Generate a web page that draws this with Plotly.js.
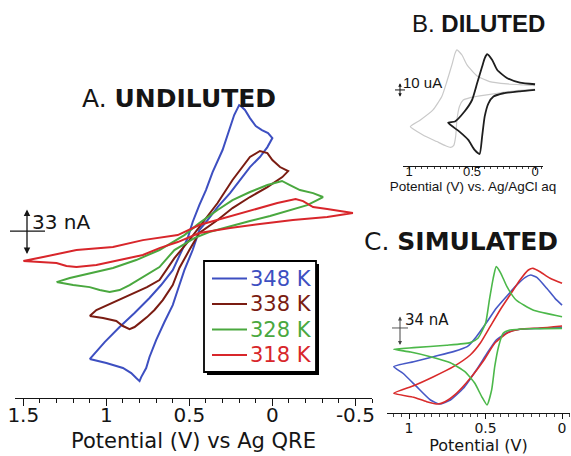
<!DOCTYPE html>
<html><head><meta charset="utf-8">
<script src="https://cdn.plot.ly/plotly-3.0.1.min.js"></script>
<style>html,body{margin:0;padding:0;background:#fff}#chart{width:571px;height:456px}</style>
</head><body><div id="chart"></div>
<script>
// ---------- Panel A: undiluted CVs (potential V vs Ag QRE, current nA) ----------
const seriesLabels = ['348 K', '338 K', '328 K', '318 K'];
const potA348 = [1.10,1.00,0.90,0.85,0.82,0.80,0.79,0.76,0.74,0.70,0.65,0.60,0.57,0.53,0.48,0.44,0.39,0.33,0.255,0.18,0.135,0.075,0.03,0.00,0.026,0.063,0.10,0.135,0.165,0.19,0.20,0.23,0.255,0.30,0.36,0.40,0.44,0.48,0.51,0.56,0.60,0.67,0.74,0.83,0.92,1.01,1.10];
const curA348 = [-91.8,-94.6,-98.2,-101.8,-105.4,-107.6,-104.7,-98.2,-90.3,-78.2,-65.2,-53.1,-42.3,-28.0,-13.6,0.7,7.9,17.2,27.2,38.7,45.9,53.1,60.2,66.7,70.3,72.4,75.3,81.0,86.8,89.6,90.3,83.2,73.9,58.1,42.3,29.4,18.6,6.5,-5.0,-17.2,-28.0,-38.7,-48.0,-58.8,-68.8,-79.6,-91.8];
const potA338 = [1.10,1.02,0.94,0.90,0.86,0.83,0.80,0.755,0.71,0.66,0.60,0.56,0.50,0.44,0.33,0.24,0.135,0.03,-0.06,-0.095,-0.046,0.00,0.03,0.075,0.135,0.24,0.33,0.44,0.50,0.59,0.68,0.755,0.86,0.96,1.06,1.10];
const curA338 = [-60.9,-62.4,-64.5,-68.1,-70.3,-68.8,-66.0,-61.7,-56.6,-49.5,-38.7,-26.5,-13.6,-1.4,7.9,16.5,24.4,31.5,38.7,43.0,45.9,50.9,55.9,57.4,53.1,36.6,20.1,2.9,-6.5,-19.4,-35.1,-40.2,-45.9,-50.9,-56.6,-60.9];
const potA328 = [1.30,1.20,1.10,1.04,0.98,0.92,0.86,0.78,0.68,0.59,0.47,0.38,0.255,0.135,0.014,-0.106,-0.21,-0.27,-0.305,-0.245,-0.166,-0.106,-0.058,0.03,0.135,0.24,0.33,0.44,0.53,0.68,0.82,0.96,1.10,1.22,1.30];
const curA328 = [-36.6,-38.7,-40.2,-42.3,-43.7,-42.3,-38.7,-33.0,-25.8,-13.6,-5.0,-0.7,3.6,7.2,10.8,15.1,18.6,22.2,24.4,27.2,29.4,33.0,35.9,33.0,28.0,22.2,15.1,5.7,-2.9,-13.6,-20.8,-26.5,-30.1,-33.7,-36.6];
const potA318 = [1.50,1.42,1.30,1.24,1.18,1.06,0.92,0.78,0.68,0.57,0.44,0.255,0.075,-0.124,-0.33,-0.425,-0.485,-0.33,-0.245,-0.185,-0.14,-0.03,0.075,0.195,0.315,0.44,0.57,0.68,0.78,0.96,1.18,1.38,1.50];
const curA318 = [-21.5,-22.2,-22.9,-25.1,-25.8,-24.4,-20.8,-17.2,-12.2,-7.9,-1.4,2.2,5.0,7.9,10.0,11.5,12.9,15.8,17.2,21.5,22.9,20.1,16.5,12.9,8.6,4.3,-2.9,-5.0,-6.5,-11.5,-13.6,-18.6,-21.5];
const ticksA = [1.5, 1, 0.5, 0, -0.5];
const tickTextA = ['1.5', '1', '0.5', '0', '-0.5'];

// ---------- Panel B: diluted CVs (potential V vs Ag/AgCl aq, current uA) ----------
const potBgray = [0.0,0.17,0.30,0.44,0.52,0.57,0.60,0.62,0.63,0.645,0.67,0.71,0.78,0.89,0.99,0.91,0.81,0.74,0.70,0.66,0.635,0.62,0.58,0.54,0.46,0.36,0.22,0.09,0.0];
const curBgray = [0.5,-0.7,-2.2,-4.0,-5.3,-6.7,-11,-20,-31,-37,-38.3,-37.2,-34.4,-30,-24.4,-20,-13.3,-4.4,5.6,16.7,24.4,26.7,23.3,16.7,9.3,5.6,4.0,3.3,2.9];
const potBblack = [0.0,0.12,0.25,0.33,0.37,0.40,0.42,0.44,0.48,0.53,0.60,0.69,0.635,0.56,0.50,0.46,0.42,0.40,0.38,0.34,0.30,0.22,0.12,0.0];
const curBblack = [0,-0.9,-2.2,-4.4,-8.9,-17.8,-31,-42.7,-40,-33.3,-27.8,-21.8,-21,-14.4,-6.7,4.4,15.6,21.1,23.8,20,13.3,7.8,4.9,3.8];
const ticksB = [1, 0.5, 0];
const tickTextB = ['1', '0.5', '0'];

// ---------- Panel C: simulated CVs (potential V, current nA) ----------
const potC348 = [0.0,0.144,0.275,0.36,0.43,0.49,0.56,0.645,0.73,0.80,0.86,0.95,1.04,1.10,0.97,0.84,0.71,0.62,0.56,0.49,0.43,0.36,0.30,0.24,0.205,0.165,0.10,0.046,0.0];
const curC348 = [0.8,-0.4,-1.5,-5.3,-13.6,-28.7,-47.6,-68.3,-81.6,-86.1,-81.6,-66.5,-51.3,-43.8,-38.2,-32.5,-26.8,-21.2,-9.8,7.1,22.3,36.3,48,57.4,60,57.4,45,33.6,26];
const potC318 = [0.0,0.144,0.275,0.36,0.44,0.51,0.60,0.69,0.765,0.81,0.885,0.97,1.10,0.97,0.84,0.71,0.60,0.535,0.47,0.405,0.34,0.275,0.22,0.19,0.144,0.078,0.0];
const curC318 = [2.3,0,-1.5,-6,-17.4,-36.3,-57,-74,-83.5,-86.1,-83.5,-78.5,-74,-65.4,-55.2,-43.8,-30.6,-17.4,1.5,20.4,37.4,54.4,65.7,67.6,63.8,56.3,50.6];
const potC328 = [0.0,0.21,0.34,0.385,0.415,0.44,0.46,0.49,0.525,0.57,0.635,0.73,0.86,0.99,1.10,0.97,0.755,0.60,0.55,0.50,0.475,0.45,0.43,0.40,0.36,0.30,0.19,0.0];
const curC328 = [-0.4,-0.8,-2.3,-6,-21.2,-43.8,-70.2,-87.2,-77.8,-62.7,-49.5,-39.3,-32.5,-27.2,-24.1,-22.3,-19.6,-16.6,-11.7,5.3,31.7,56.3,69.5,62,46.8,31.7,20.4,12.8];
const ticksC = [1, 0.5, 0];
const tickTextC = ['1', '0.5', '0'];

// ---------- styling ----------
const W = 571, H = 456;
const px = v => v / W;
const py = v => 1 - v / H;
const colA = ['#3d4fc1', '#7a1c12', '#4aa83f', '#d8262b'];
const DJ = 'DejaVu Sans';
const LS = 'Liberation Sans, Arial, sans-serif';
const ink = '#151515';

const traces = [];
[[potA348, curA348], [potA338, curA338], [potA328, curA328], [potA318, curA318]].forEach((s, i) => {
  traces.push({
    x: s[0], y: s[1], xaxis: 'x', yaxis: 'y', mode: 'lines', type: 'scatter',
    name: seriesLabels[i], showlegend: false,
    line: {color: colA[i], width: 2}, hoverinfo: 'skip'
  });
});
traces.push({x: potBgray, y: curBgray, xaxis: 'x2', yaxis: 'y2', mode: 'lines', showlegend: false,
  line: {color: '#c9c9c9', width: 1.2, shape: 'spline', smoothing: 0.5}, hoverinfo: 'skip'});
traces.push({x: potBblack, y: curBblack, xaxis: 'x2', yaxis: 'y2', mode: 'lines', showlegend: false,
  line: {color: '#1e1e1e', width: 1.8, shape: 'spline', smoothing: 0.5}, hoverinfo: 'skip'});
traces.push({x: potC348, y: curC348, xaxis: 'x3', yaxis: 'y3', mode: 'lines', showlegend: false,
  line: {color: '#4658c6', width: 1.6, shape: 'spline', smoothing: 0.5}, hoverinfo: 'skip'});
traces.push({x: potC318, y: curC318, xaxis: 'x3', yaxis: 'y3', mode: 'lines', showlegend: false,
  line: {color: '#d92b2b', width: 1.6, shape: 'spline', smoothing: 0.5}, hoverinfo: 'skip'});
traces.push({x: potC328, y: curC328, xaxis: 'x3', yaxis: 'y3', mode: 'lines', showlegend: false,
  line: {color: '#4cb84a', width: 1.6, shape: 'spline', smoothing: 0.5}, hoverinfo: 'skip'});

// ---------- legend box for panel A (drawn with shapes + text) ----------
const legBox = {x0: 204, x1: 316, y0: 261, y1: 372};
const legRows = [278.5, 304, 329.5, 355];
const shapes = [
  {type: 'rect', xref: 'paper', yref: 'paper', x0: px(legBox.x0 + 3), x1: px(legBox.x1 + 3), y0: py(legBox.y1 + 3), y1: py(legBox.y0 + 3),
   fillcolor: '#000', line: {width: 0}, layer: 'above'},
  {type: 'rect', xref: 'paper', yref: 'paper', x0: px(legBox.x0), x1: px(legBox.x1), y0: py(legBox.y1), y1: py(legBox.y0),
   fillcolor: '#fff', line: {color: '#000', width: 1.8}, layer: 'above'},
  // scale bar crosses
  {type: 'line', xref: 'paper', yref: 'y', x0: px(10), x1: px(45), y0: 0, y1: 0, line: {color: ink, width: 1.2}},
  {type: 'line', xref: 'paper', yref: 'y2', x0: px(395), x1: px(405), y0: 0, y1: 0, line: {color: ink, width: 1}},
  {type: 'line', xref: 'paper', yref: 'y3', x0: px(392), x1: px(408), y0: 0, y1: 0, line: {color: '#555', width: 1}}
];
const annotations = [
  {xref: 'paper', yref: 'paper', x: px(178.5), y: py(98.5), xanchor: 'center', yanchor: 'middle', showarrow: false,
   text: 'A. <b>UNDILUTED</b>', font: {family: DJ, size: 25, color: ink}},
  {xref: 'paper', yref: 'paper', x: px(478.5), y: py(23.7), xanchor: 'center', yanchor: 'middle', showarrow: false,
   text: 'B. <b>DILUTED</b>', font: {family: LS, size: 24, color: ink}},
  {xref: 'paper', yref: 'paper', x: px(460.5), y: py(241.7), xanchor: 'center', yanchor: 'middle', showarrow: false,
   text: 'C. <b>SIMULATED</b>', font: {family: DJ, size: 25, color: ink}},
  // scale bars
  {xref: 'paper', yref: 'y', x: px(27), y: -16.5, axref: 'pixel', ax: 0, ayref: 'y', ay: 16.5, text: '',
   showarrow: true, arrowhead: 2, arrowside: 'end+start', arrowsize: 1, arrowwidth: 1.3, arrowcolor: ink, standoff: 0, startstandoff: 0},
  {xref: 'paper', yref: 'y', x: px(30), y: 6.5, xanchor: 'left', yanchor: 'middle', showarrow: false,
   text: '33 nA', font: {family: DJ, size: 20, color: ink}},
  {xref: 'paper', yref: 'y2', x: px(400), y: -4.5, axref: 'pixel', ax: 0, ayref: 'y2', ay: 5.5, text: '',
   showarrow: true, arrowhead: 2, arrowside: 'end+start', arrowsize: 0.7, arrowwidth: 1, arrowcolor: ink, standoff: 0, startstandoff: 0},
  {xref: 'paper', yref: 'y2', x: px(401), y: 5.3, xanchor: 'left', yanchor: 'middle', showarrow: false,
   text: '10 uA', font: {family: LS, size: 15, color: ink}},
  {xref: 'paper', yref: 'y3', x: px(400), y: -19.3, axref: 'pixel', ax: 0, ayref: 'y3', ay: 14.7, text: '',
   showarrow: true, arrowhead: 2, arrowside: 'end+start', arrowsize: 0.8, arrowwidth: 1, arrowcolor: '#444', standoff: 0, startstandoff: 0},
  {xref: 'paper', yref: 'y3', x: px(403), y: 9.1, xanchor: 'left', yanchor: 'middle', showarrow: false,
   text: '34 nA', font: {family: DJ, size: 15, color: ink}}
];
seriesLabels.forEach((lab, i) => {
  shapes.push({type: 'line', xref: 'paper', yref: 'paper', x0: px(212), x1: px(247), y0: py(legRows[i]), y1: py(legRows[i]),
    line: {color: colA[i], width: 2}, layer: 'above'});
  annotations.push({xref: 'paper', yref: 'paper', x: px(248), y: py(legRows[i]), xanchor: 'left', yanchor: 'middle',
    showarrow: false, text: lab, font: {family: DJ, size: 21, color: colA[i]}});
});

const baseX = {
  showline: true, linecolor: ink, linewidth: 1.2, ticks: 'outside', tickcolor: ink,
  showgrid: false, zeroline: false, tickmode: 'array', automargin: false
};
const layout = {
  width: W, height: H, margin: {l: 0, r: 0, t: 0, b: 0},
  paper_bgcolor: '#fff', plot_bgcolor: 'rgba(0,0,0,0)',
  showlegend: false,
  xaxis: Object.assign({}, baseX, {
    domain: [px(15), px(372)], range: [1.55, -0.6], anchor: 'y',
    tickvals: ticksA, ticktext: tickTextA, ticklen: 7, tickwidth: 1.2, ticklabelstandoff: -8,
    minor: {tickmode: 'linear', tick0: 0, dtick: 0.1, ticks: 'outside', ticklen: 4, tickwidth: 1, tickcolor: ink, showgrid: false},
    tickfont: {family: DJ, size: 20, color: ink},
    title: {text: 'Potential (V) vs Ag QRE', font: {family: DJ, size: 21, color: ink}, standoff: 7}
  }),
  yaxis: {domain: [py(398), py(98)], range: [-119.7, 95.4], visible: false, anchor: 'x', fixedrange: true},
  xaxis2: Object.assign({}, baseX, {
    domain: [px(403), px(543)], range: [1.048, -0.063], anchor: 'y2', linewidth: 1,
    tickvals: ticksB, ticktext: tickTextB, ticklen: 3, tickwidth: 1, ticklabelstandoff: -10,
    minor: {tickmode: 'linear', tick0: 0, dtick: 0.05, ticks: 'outside', ticklen: 2, tickwidth: 0.8, tickcolor: ink, showgrid: false},
    tickfont: {family: LS, size: 13, color: ink},
    title: {text: 'Potential (V) vs. Ag/AgCl aq', font: {family: LS, size: 13.5, color: ink}, standoff: 0}
  }),
  yaxis2: {domain: [py(166), py(40)], range: [-50.7, 33.3], visible: false, anchor: 'x2', fixedrange: true},
  xaxis3: Object.assign({}, baseX, {
    domain: [px(387), px(570)], range: [1.144, -0.052], anchor: 'y3', linewidth: 1,
    tickvals: ticksC, ticktext: tickTextC, ticklen: 5, tickwidth: 1, ticklabelstandoff: -3,
    minor: {tickmode: 'linear', tick0: 0, dtick: 0.05, ticks: 'outside', ticklen: 3, tickwidth: 0.8, tickcolor: ink, showgrid: false},
    tickfont: {family: DJ, size: 14, color: ink},
    title: {text: 'Potential (V)', font: {family: DJ, size: 16, color: ink}, standoff: 5}
  }),
  yaxis3: {domain: [py(412.7), py(258)], range: [-96, 79.3], visible: false, anchor: 'x3', fixedrange: true},
  shapes: shapes,
  annotations: annotations
};
Plotly.newPlot('chart', traces, layout, {staticPlot: true, displayModeBar: false});
</script>
</body></html>
